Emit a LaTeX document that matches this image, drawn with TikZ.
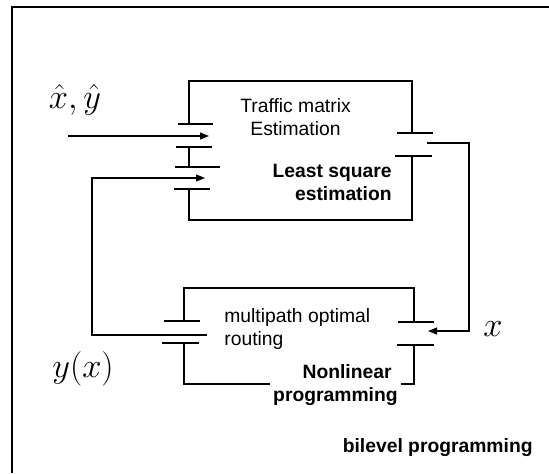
\documentclass[tikz,border=0pt]{standalone}
\usepackage{fontspec}
\setmainfont{Liberation Sans}
\usetikzlibrary{arrows.meta}

\begin{document}
\begin{tikzpicture}[
  x=0.5pt, y=-0.5pt,
  every node/.style={font=\fontsize{9.65}{11.5}\selectfont, inner sep=0pt, align=center},
  heavy/.style={font=\fontsize{9.65}{11.5}\selectfont\bfseries},
  mathlabel/.style={font=\fontsize{16.3}{18}\selectfont},
  box/.style={draw, line width=0.6pt},
  flow/.style={draw, line width=0.6pt, -{Triangle[length=4.5pt, width=3.5pt]}}
]
\useasboundingbox (0,0) rectangle (549,473);

% Frame
\draw[line width=1pt] (12,473) -- (12,7) -- (549,7);

% Estimation block
\draw[box] (189,124) -- (189,81) -- (412,81) -- (412,133);
\draw[box] (412,156) -- (412,220) -- (189,220) -- (189,189);
\draw[box] (189,147) -- (189,167);

% Routing block
\draw[box] (184,321) -- (184,288) -- (414,288) -- (414,322);
\draw[box] (414,345) -- (414,384) -- (184,384) -- (184,343);

% Port ticks
\foreach \xa/\xb/\yy in {178/213/124, 176/212/147, 175/220/167, 174/210/189,
                         397/433/133, 395/432/156,
                         164/200/321, 162/199/343,
                         398/434/322, 397/434/345}
  \draw[box] (\xa,\yy) -- (\xb,\yy);

% Ports
\coordinate (src) at (68,136);
\coordinate (est-in1) at (209,136);
\coordinate (est-in2) at (205,178);
\coordinate (est-out) at (427,143);
\coordinate (rout-in) at (428,331);
\coordinate (rout-out) at (207,335);

% Texts
\node (est-title) at (295.5,117.5) {Traffic matrix\\Estimation};
\node[heavy, align=right, anchor=east] (est-method) at (392,182.5) {Least square\\estimation};
\node[align=left, anchor=west] (rout-title) at (224,328.5) {multipath optimal\\routing};
\node[heavy, align=right, anchor=east, fill=white, inner sep=1.5pt] (rout-method) at (401,385) {Nonlinear\hspace*{3pt}\\programming};
\node[heavy, anchor=east] (bilevel) at (533,448) {bilevel programming};

\node[mathlabel] (xy-hat) at (75,100) {$\hat{x},\hat{y}$};
\node[mathlabel] (y-of-x) at (83,369) {$y(x)$};
\node[mathlabel] (x-var) at (493,329) {$x$};

% Connectors
\draw[flow] (src) -- (est-in1);
\draw[flow] (rout-out) -| (92,178) -- (est-in2);
\draw[flow] (est-out) -- (469,143) |- (rout-in);

\end{tikzpicture}
\end{document}
